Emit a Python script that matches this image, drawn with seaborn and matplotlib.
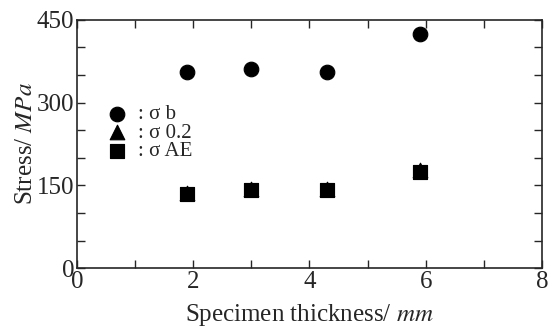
import matplotlib
matplotlib.use('Agg')
import matplotlib.pyplot as plt
import seaborn as sns
import pandas as pd
from matplotlib.ticker import MultipleLocator

# data
thickness = [1.9, 3.0, 4.3, 5.9]
sigma_b = [356, 361, 356, 424]
sigma_02 = [137, 143, 143, 178]
sigma_ae = [135, 141, 141, 175]

sns.set_style('ticks')
plt.rcParams['font.family'] = ['Liberation Serif', 'DejaVu Serif']
plt.rcParams['mathtext.fontset'] = 'stix'

fig, ax = plt.subplots(figsize=(5.53, 3.31), dpi=100)

sns.scatterplot(x=thickness, y=sigma_b, marker='o', s=110, color='black',
                edgecolor='black', label=': σ b', ax=ax, zorder=3)
sns.scatterplot(x=thickness, y=sigma_02, marker='^', s=110, color='black',
                edgecolor='black', label=': σ 0.2', ax=ax, zorder=3)
sns.scatterplot(x=thickness, y=sigma_ae, marker='s', s=110, color='black',
                edgecolor='black', label=': σ AE', ax=ax, zorder=4)

ax.set_xlim(0, 8)
ax.set_ylim(0, 450)
ax.xaxis.set_major_locator(MultipleLocator(2))
ax.xaxis.set_minor_locator(MultipleLocator(1))
ax.yaxis.set_major_locator(MultipleLocator(150))
ax.yaxis.set_minor_locator(MultipleLocator(50))
ax.tick_params(which='both', direction='in', top=True, right=True, width=1, labelsize=18, pad=2)
ax.tick_params(which='both', length=6)
for sp in ax.spines.values():
    sp.set_linewidth(1.2)

ax.set_xlabel('Specimen thickness/ $\\it{mm}$', fontsize=18)
ax.set_ylabel('Stress/ $\\it{MPa}$', fontsize=18)
ax.xaxis.set_label_coords(0.5, -0.135)
ax.yaxis.set_label_coords(-0.085, 0.5)

ax.legend(loc='center left', bbox_to_anchor=(0.038, 0.544), frameon=False,
          fontsize=15, handletextpad=0.3, labelspacing=-0.05, borderaxespad=0.0,
          handlelength=1.4)

plt.subplots_adjust(left=0.139, right=0.980, bottom=0.190, top=0.940)
plt.savefig('out.png', dpi=100)
